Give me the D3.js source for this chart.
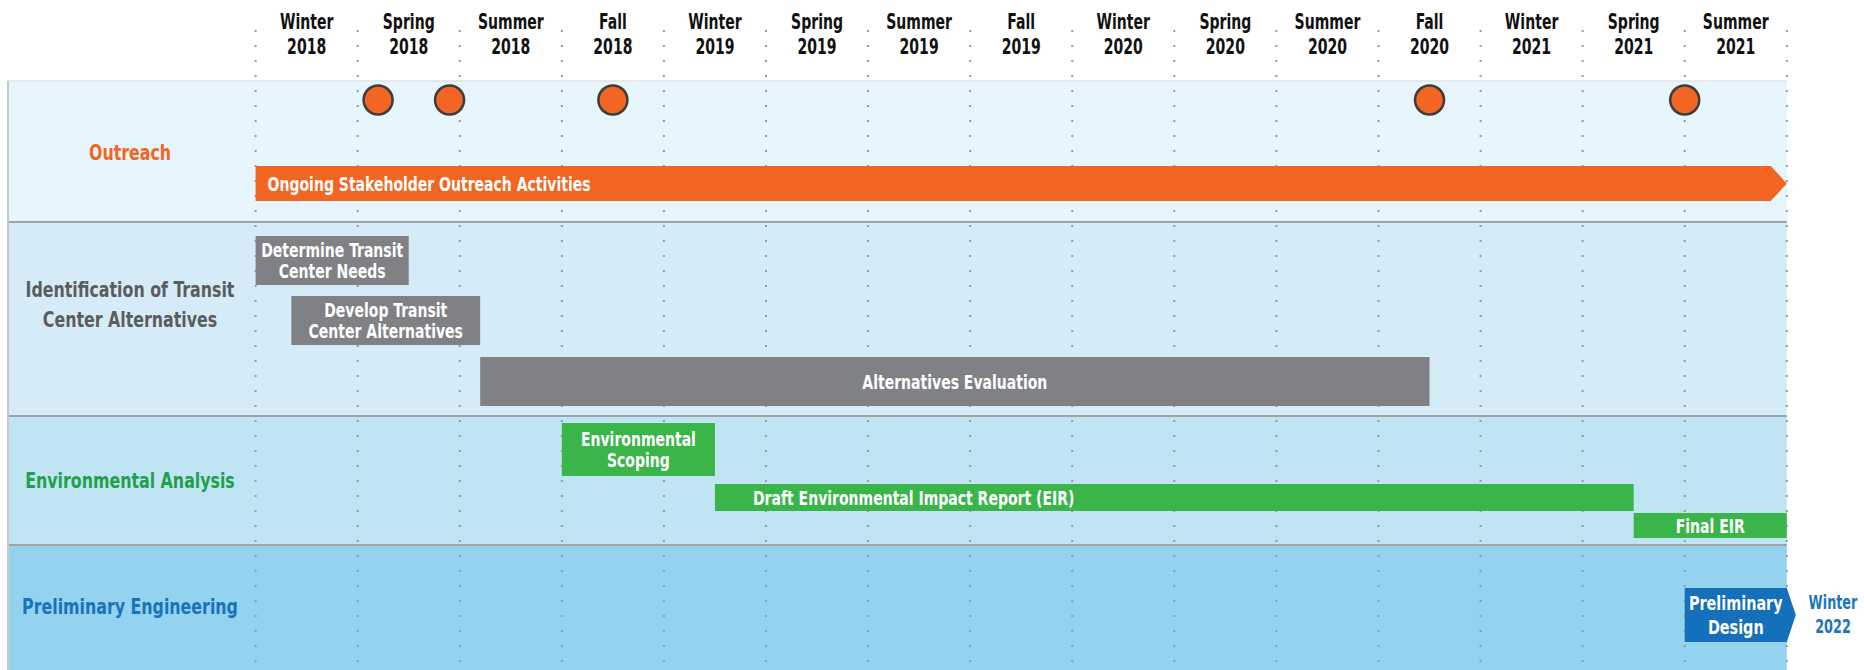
<!DOCTYPE html>
<html>
<head>
<meta charset="utf-8">
<script src="https://cdn.jsdelivr.net/npm/d3@7"></script>
<style>
  body { margin: 0; background: #fff; }
  text { font-family: "Liberation Sans Narrow", "DejaVu Sans Condensed", "Roboto", sans-serif; font-weight: bold; }
</style>
</head>
<body>
<svg id="chart"></svg>
<script>
// quarters shown in the header
let seasons = ["Winter 2018","Spring 2018","Summer 2018","Fall 2018","Winter 2019","Spring 2019","Summer 2019","Fall 2019",
  "Winter 2020","Spring 2020","Summer 2020","Fall 2020","Winter 2021","Spring 2021","Summer 2021"];
let endLabel = "Winter 2022";

// rows (workstreams)
let rowNames = ["Outreach", "Identification of Transit\nCenter Alternatives", "Environmental Analysis", "Preliminary Engineering"];

// outreach meetings, in quarters from Winter 2018
let milestones = [1.2, 1.9, 3.5, 11.5, 14.0];

// tasks: start / end in quarters from Winter 2018
let taskNames = ["Ongoing Stakeholder Outreach Activities", "Determine Transit\nCenter Needs", "Develop Transit\nCenter Alternatives",
  "Alternatives Evaluation", "Environmental\nScoping", "Draft Environmental Impact Report (EIR)", "Final EIR", "Preliminary\nDesign"];
let taskRow = [0, 1, 1, 1, 2, 2, 2, 3];
let taskStart = [0, 0, 0.35, 2.2, 3.0, 4.5, 13.5, 14.0];
let taskEnd = [15, 1.5, 2.2, 11.5, 4.5, 13.5, 15, 15];

let W = 1864, H = 670;
let svg = d3.select("#chart").attr("width", W).attr("height", H);

let x = d3.scaleLinear().domain([0, 15]).range([255.6, 1786.8]);

// layout of the bands and the lanes inside them
let bandTop = [81, 222, 416, 545, 672];
let bandFill = ["#e7f5fc", "#d5ecf8", "#bfe5f5", "#93d3ef"];
let rowColor = ["#f26522", "#5b5c5e", "#21a04a", "#1a72ba"];
let rowFill = ["#f26522", "#808184", "#39b54a", "#1470ba"];
let laneTop = [166, 236, 296, 357, 423, 484, 513, 588];
let laneH = [35, 49, 49, 49, 53, 27, 25, 54];
let textAlign = ["start", "middle", "middle", "middle", "middle", "start", "middle", "middle"];
let arrow = [true, false, false, false, false, false, false, true];

// condensed text: the narrow font is not installed, so squeeze horizontally
function label(parent, tx, baseline, lines, opt) {
  let g = parent.append("g").attr("transform", `translate(${tx},${baseline}) scale(${opt.sx},1)`);
  let t = g.append("text")
    .attr("text-anchor", opt.anchor || "middle")
    .attr("font-size", opt.size)
    .attr("fill", opt.fill);
  lines.forEach((l, j) => {
    t.append("tspan").attr("x", 0).attr("y", j * opt.lh).text(l);
  });
  return t;
}

// bands
svg.selectAll("rect.band").data(bandFill).enter().append("rect")
  .attr("class", "band")
  .attr("x", 8).attr("width", x(15) - 8)
  .attr("y", (d, i) => bandTop[i])
  .attr("height", (d, i) => bandTop[i + 1] - bandTop[i])
  .attr("fill", d => d);

svg.selectAll("line.sep").data(bandTop.slice(1, 4)).enter().append("line")
  .attr("x1", 8).attr("x2", x(15))
  .attr("y1", d => d).attr("y2", d => d)
  .attr("stroke", "#9ea3a6").attr("stroke-width", 2);
svg.append("line").attr("x1", 8).attr("x2", x(15)).attr("y1", 81).attr("y2", 81)
  .attr("stroke", "#dfe3e5").attr("stroke-width", 1.5);
svg.append("line").attr("x1", 8).attr("x2", 8).attr("y1", 81).attr("y2", H)
  .attr("stroke", "#c8c8c8").attr("stroke-width", 2);

// dotted grid lines
svg.selectAll("line.grid").data(d3.range(16)).enter().append("line")
  .attr("x1", d => x(d)).attr("x2", d => x(d))
  .attr("y1", 30).attr("y2", H)
  .attr("stroke", "#999").attr("stroke-width", 2)
  .attr("stroke-dasharray", "2,13");

// header
seasons.forEach((s, i) => {
  label(svg, x(i + 0.5), 28.5, s.split(" "), { sx: 0.71, size: 22, lh: 26, fill: "#111" });
});

// row labels
let rowBase = [160, 312, 488, 614];
rowNames.forEach((r, i) => {
  let lines = r.split("\n");
  label(svg, 130, rowBase[i] - (lines.length - 1) * 15, lines, { sx: 0.8, size: 22, lh: 30, fill: rowColor[i] });
});

// task bars
let tasks = taskNames.map((d, i) => ({ name: d, row: taskRow[i], s: taskStart[i], e: taskEnd[i], i: i }));
svg.selectAll("path.task").data(tasks).enter().append("path")
  .attr("fill", d => rowFill[d.row])
  .attr("d", d => {
    let x0 = x(d.s), x1 = x(d.e), y0 = laneTop[d.i], h = laneH[d.i];
    let p = d3.path();
    if (arrow[d.i]) {
      let tip = d.row === 0 ? 0 : 9;
      let body = d.row === 0 ? x1 - 16 : x1;
      p.moveTo(x0, y0); p.lineTo(body, y0); p.lineTo(x1 + tip, y0 + h / 2); p.lineTo(body, y0 + h); p.lineTo(x0, y0 + h);
    } else {
      p.rect(x0, y0, x1 - x0, h);
    }
    p.closePath();
    return p.toString();
  });

tasks.forEach(d => {
  let lines = d.name.split("\n");
  let start = textAlign[d.i] === "start";
  let tx = start ? x(d.s) + (d.row === 0 ? 12 : 38) : (x(d.s) + x(d.e)) / 2;
  let fs = d.row === 3 ? 20 : 19;
  let lh = d.row === 3 ? 25 : 21;
  let cy = laneTop[d.i] + laneH[d.i] / 2;
  label(svg, tx, cy + 7 - (lines.length - 1) * lh / 2, lines,
    { sx: d.row === 3 ? 0.8 : 0.82, size: fs, lh: lh, fill: "#fff", anchor: start ? "start" : "middle" });
});

// outreach milestones
svg.selectAll("circle.ms").data(milestones).enter().append("circle")
  .attr("cx", d => x(d)).attr("cy", 100).attr("r", 14.5)
  .attr("fill", "#f26522").attr("stroke", "#3d3d3d").attr("stroke-width", 2.5);

// end label
label(svg, 1833, 609, endLabel.split(" "), { sx: 0.75, size: 19, lh: 24, fill: "#1c75bc" });
</script>
</body>
</html>
